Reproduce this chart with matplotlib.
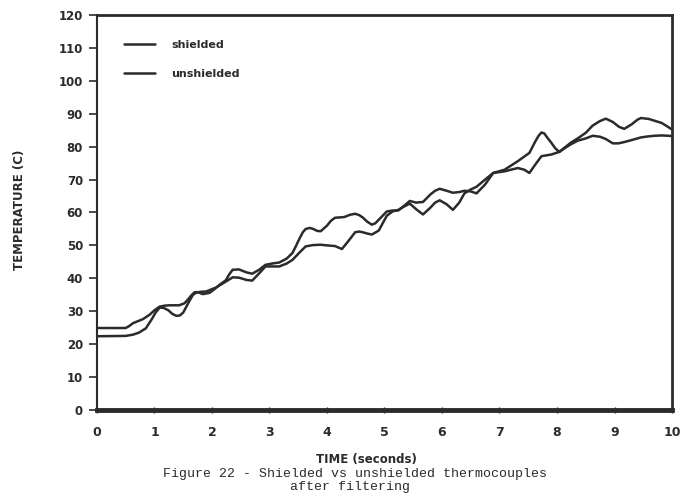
import matplotlib
matplotlib.use("Agg")
import matplotlib.pyplot as plt

# thermocouple readings after filtering (time in s, temperature in C)
t_shielded = [0, 0.5, 0.56, 0.63, 0.8, 0.92, 1.0, 1.09, 1.18, 1.26, 1.43, 1.52,
              1.58, 1.64, 1.7, 1.77, 1.84, 1.96, 2.05, 2.13, 2.24, 2.3, 2.36, 2.47,
              2.6, 2.7, 2.82, 2.93, 3.05, 3.17, 3.3, 3.4, 3.46, 3.52, 3.58, 3.63,
              3.7, 3.76, 3.83, 3.89, 4.0, 4.07, 4.14, 4.3, 4.4, 4.49, 4.56, 4.62,
              4.7, 4.78, 4.84, 4.9, 5.04, 5.14, 5.24, 5.34, 5.44, 5.55, 5.67, 5.8,
              5.88, 5.96, 6.08, 6.19, 6.3, 6.39, 6.5, 6.6, 6.75, 6.89, 7.09, 7.2,
              7.32, 7.43, 7.52, 7.62, 7.73, 7.9, 8.04, 8.14, 8.24, 8.36, 8.5, 8.62,
              8.75, 8.85, 8.97, 9.07, 9.17, 9.3, 9.46, 9.58, 9.69, 9.82, 9.94, 10]
shielded = [24.9, 24.9, 25.5, 26.4, 27.6, 29.0, 30.3, 31.4, 31.7, 31.8, 31.8, 32.4,
            33.5, 34.8, 35.8, 35.7, 35.2, 35.6, 36.8, 38.0, 39.4, 41.2, 42.6, 42.7,
            41.8, 41.4, 42.6, 44.1, 44.5, 44.8, 46.0, 47.7, 49.8, 52.0, 54.0, 55.0,
            55.3, 55.0, 54.4, 54.3, 56.0, 57.5, 58.4, 58.6, 59.3, 59.6, 59.2, 58.5,
            57.2, 56.3, 56.7, 57.8, 60.3, 60.6, 60.6, 62.0, 63.5, 63.0, 63.2, 65.5,
            66.6, 67.2, 66.6, 66.0, 66.2, 66.6, 66.4, 65.8, 68.5, 72.0, 72.5, 73.0,
            73.5, 73.0, 72.0, 74.5, 77.1, 77.6, 78.4, 79.6, 80.7, 81.8, 82.5, 83.3,
            83.0, 82.3, 81.0, 81.0, 81.4, 82.0, 82.8, 83.1, 83.3, 83.4, 83.3, 83.2]

t_unshielded = [0, 0.5, 0.63, 0.73, 0.85, 0.95, 1.02, 1.09, 1.16, 1.24, 1.31, 1.38,
                1.44, 1.5, 1.61, 1.67, 1.73, 1.8, 1.9, 2.07, 2.24, 2.36, 2.47, 2.6,
                2.7, 2.82, 2.93, 3.05, 3.17, 3.3, 3.4, 3.52, 3.63, 3.76, 3.89, 4.0,
                4.14, 4.26, 4.38, 4.49, 4.56, 4.62, 4.7, 4.78, 4.9, 5.04, 5.14, 5.24,
                5.34, 5.44, 5.55, 5.67, 5.8, 5.88, 5.96, 6.08, 6.19, 6.3, 6.39, 6.5,
                6.6, 6.75, 6.89, 7.09, 7.32, 7.52, 7.62, 7.68, 7.73, 7.78, 7.82, 7.9,
                7.97, 8.04, 8.14, 8.24, 8.36, 8.5, 8.62, 8.75, 8.85, 8.97, 9.08, 9.17,
                9.3, 9.4, 9.46, 9.6, 9.69, 9.82, 9.94, 10]
unshielded = [22.4, 22.5, 22.9, 23.5, 24.8, 27.5, 29.6, 31.1, 31.0, 30.3, 29.2, 28.6,
              28.7, 29.6, 33.2, 35.0, 35.7, 35.9, 36.0, 37.2, 39.0, 40.3, 40.2, 39.5,
              39.3, 41.5, 43.6, 43.6, 43.6, 44.5, 45.6, 47.8, 49.7, 50.1, 50.2, 50.0,
              49.8, 48.9, 51.5, 54.0, 54.2, 54.0, 53.6, 53.3, 54.5, 59.0, 60.3, 60.8,
              61.8, 62.7, 61.0, 59.4, 61.5, 63.0, 63.7, 62.5, 60.8, 63.0, 65.8, 67.0,
              67.8, 70.0, 72.0, 73.0, 75.6, 78.1, 81.5, 83.3, 84.3, 84.0, 83.0, 81.2,
              79.5, 78.4, 79.8, 81.2, 82.5, 84.2, 86.4, 87.8, 88.5, 87.5, 86.0, 85.4,
              86.8, 88.2, 88.7, 88.4, 87.9, 87.2, 85.9, 85.2]

x_ticks = list(range(0, 11))
y_ticks = list(range(0, 121, 10))

ink = "#2b2b2b"
fig = plt.figure(figsize=(6.81, 4.99), dpi=100)
ax = fig.add_axes([0.1424, 0.1784, 0.8444, 0.7916])

line_kw = dict(color=ink, lw=1.8, solid_joinstyle="round", solid_capstyle="round")
ax.plot(t_shielded, shielded, label="shielded", **line_kw)
ax.plot(t_unshielded, unshielded, label="unshielded", **line_kw)

ax.set_xlim(0, 10)
ax.set_ylim(0, 120)
ax.set_xticks(x_ticks)
ax.set_yticks(y_ticks)
ax.set_xticklabels([str(v) for v in x_ticks], fontsize=9, fontweight="bold", color=ink)
ax.set_yticklabels([str(v) for v in y_ticks], fontsize=8.5, fontweight="bold", color=ink)
ax.tick_params(axis="y", direction="out", length=6, width=1.2, pad=4, colors=ink)
ax.tick_params(axis="x", direction="inout", length=5, width=1.0, pad=9, colors=ink)

for side, w in [("left", 1.5), ("right", 2.0), ("top", 2.0), ("bottom", 3.5)]:
    ax.spines[side].set_linewidth(w)
    ax.spines[side].set_color(ink)

leg = ax.legend(loc="upper left", bbox_to_anchor=(0.03, 0.963), frameon=False,
                handlelength=2.8, handletextpad=1.4, labelspacing=1.75,
                prop={"size": 8, "weight": "bold"})
for txt in leg.get_texts():
    txt.set_color(ink)

fig.text(366 / 681, 1 - 459 / 499, "TIME (seconds)", ha="center", va="center",
         fontsize=8.5, fontweight="bold", color=ink)
fig.text(20 / 681, 1 - 210 / 499, "TEMPERATURE (C)", ha="center", va="center",
         rotation=90, fontsize=8.5, fontweight="bold", color=ink)

fig.text(355 / 681, 1 - 474 / 499, "Figure 22 - Shielded vs unshielded thermocouples",
         ha="center", va="center", fontsize=9.5, family="Liberation Mono", color=ink)
fig.text(350 / 681, 1 - 487 / 499, "after filtering",
         ha="center", va="center", fontsize=9.5, family="Liberation Mono", color=ink)

fig.savefig("out.png", dpi=100)
